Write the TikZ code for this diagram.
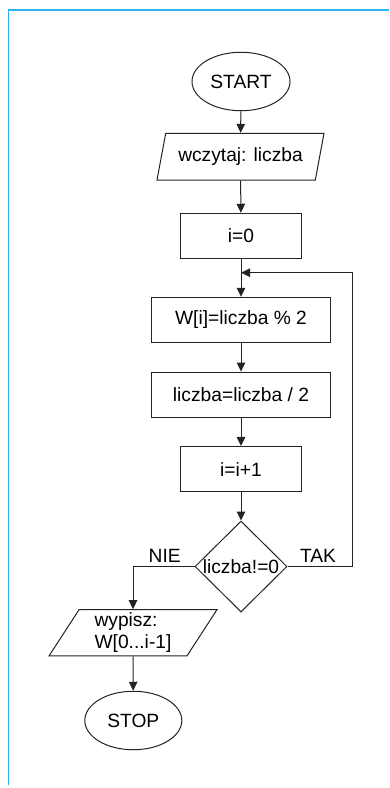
\documentclass[tikz,border=0pt]{standalone}
\usepackage{fontspec}
\setmainfont{Liberation Sans}
\usetikzlibrary{shapes.geometric,arrows.meta}
\definecolor{ramka}{RGB}{43,181,238}
\definecolor{linia}{RGB}{35,35,35}
\tikzset{
  blok/.style={draw=linia,line width=1,rectangle,minimum height=45.5,inner sep=0},
  term/.style={draw=linia,line width=1,ellipse,minimum width=98,minimum height=58.5,inner sep=0},
  wewy/.style={draw=linia,line width=1,trapezium,trapezium stretches body,inner sep=3},
  decyzja/.style={draw=linia,line width=1,diamond,minimum width=92,minimum height=91,inner sep=0},
  strz/.style={draw=linia,line width=1,-{Triangle[width=8.5pt,length=9pt]}}
}
\begin{document}
\begin{tikzpicture}[x=1pt,y=-1pt,font=\fontsize{19.2}{22.4}\selectfont]
        \useasboundingbox (0,0) rectangle (389,788);
        \draw[ramka,line width=1.4](8.3,785)|-(389,10);
        \node[term](start)at(241,81.5){START};
        \node[wewy,trapezium left angle=70,trapezium right angle=110,minimum width=167,minimum height=46.7](czyt)at(240.5,156.7){wczytaj: liczba};
        \node[blok,minimum width=121.7](zero)at(241,236){i=0};
        \node[blok,minimum width=179.7](reszta)at(241,320){W[i]=liczba \% 2};
        \node[blok,minimum width=179.7](dziel)at(241,394.8){liczba=liczba / 2};
        \node[blok,minimum width=121.7](inkr)at(241,469.2){i=i+1};
        \node[decyzja](war)at(241,566.5){\makebox[0pt]{liczba!=0}};
        \node[wewy,trapezium left angle=57,trapezium right angle=123,minimum width=168,minimum height=42.5,align=left](pisz)at(133,632.8){wypisz:\\W[0...i-1]};
        \node[term,minimum width=97](stop)at(133.3,720.5){STOP};
        \node(nie)at(164.7,556){NIE};
        \node(tak)at(318,556){TAK};
        \coordinate(wezel)at(241,272.7);
        \coordinate(petla)at(352.3,272.7);
        \draw[strz](start)--(czyt);
        \draw[strz](czyt)--(zero);
        \draw[strz](zero)--(reszta);
        \draw[strz](reszta)--(dziel);
        \draw[strz](dziel)--(inkr);
        \draw[strz](inkr)--(war);
        \draw[strz](war.east)-|(petla)--(wezel);
        \draw[strz](war.west)-|(pisz.north);
        \draw[strz](pisz)--(stop);
    \end{tikzpicture}
\end{document}
